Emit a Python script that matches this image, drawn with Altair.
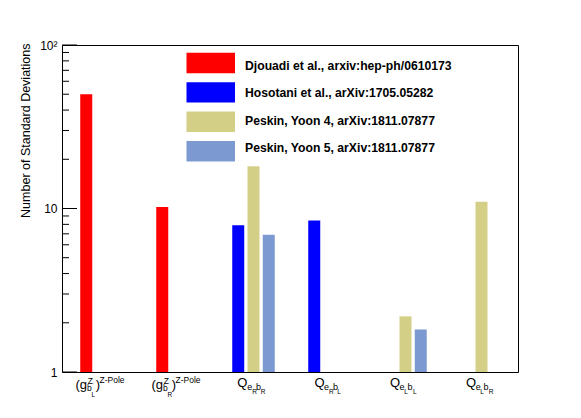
import altair as alt
import pandas as pd

# ---- data ----
cats = ["gZbL", "gZbR", "QeRbR", "QeRbL", "QeLbL", "QeLbR"]
series = [
    "Djouadi et al., arxiv:hep-ph/0610173",
    "Hosotani et al., arXiv:1705.05282",
    "Peskin, Yoon 4, arXiv:1811.07877",
    "Peskin, Yoon 5, arXiv:1811.07877",
]
colors = ["#ff0000", "#0000ff", "#d4cf87", "#7d99d1"]
slot_of_series = ["s0", "s0", "s1", "s2"]

djouadi = [50, 10.2, None, None, None, None]
hosotani = [None, None, 7.9, 8.45, None, None]
yoon4 = [None, None, 18.1, None, 2.19, 11.0]
yoon5 = [None, None, 6.9, None, 1.82, None]

major_ticks = [1, 10, 100]
minor_ticks = [2, 3, 4, 5, 6, 7, 8, 9, 20, 30, 40, 50, 60, 70, 80, 90]

rows = []
for s_i, vals in enumerate([djouadi, hosotani, yoon4, yoon5]):
    for c, v in zip(cats, vals):
        if v is not None:
            rows.append({"cat": c, "series": series[s_i], "slot": slot_of_series[s_i], "value": v})
df = pd.DataFrame(rows)

W, H = 456, 327
TOP = 45  # page y of plot top

xscale = alt.Scale(domain=cats, paddingInner=0, paddingOuter=0)
yscale = alt.Scale(type="log", domain=[1, 100])
cscale = alt.Scale(domain=series, range=colors)

bars = alt.Chart(df).mark_bar().encode(
    x=alt.X("cat:N", scale=xscale, axis=None),
    xOffset=alt.XOffset("slot:N", scale=alt.Scale(domain=["p0", "s0", "s1", "s2", "p1"],
                                                  paddingInner=0.213, paddingOuter=0.098, align=1)),
    y=alt.Y("value:Q", scale=yscale,
            axis=alt.Axis(values=major_ticks, ticks=False, domain=False, grid=False,
                          labelExpr="datum.value == 100 ? '10²' : datum.label",
                          labelFontSize=12, labelColor="black", labelPadding=5,
                          labelFont="Liberation Sans",
                          title="Number of Standard Deviations", titleFontSize=12.5,
                          titleFontWeight="normal", titleColor="black", titleFont="Liberation Sans",
                          titleAngle=270, titleAlign="right", titleBaseline="alphabetic",
                          titleX=-33, titleY=-2)),
    y2=alt.datum(1),
    color=alt.Color("series:N", scale=cscale, legend=None),
)

minor = alt.Chart(pd.DataFrame({"v": minor_ticks})).mark_rule(color="black", strokeWidth=1).encode(
    y=alt.Y("v:Q", scale=yscale, axis=None), x=alt.value(0), x2=alt.value(7))
major = alt.Chart(pd.DataFrame({"v": major_ticks})).mark_rule(color="black", strokeWidth=1).encode(
    y=alt.Y("v:Q", scale=yscale, axis=None), x=alt.value(0), x2=alt.value(15))

# ---- category labels with sub/superscripts (text pieces) ----
def paren_pieces(sub):
    return [("(g", -24.5, 388.5, 13), ("Z", -12.2, 383.5, 8.5), ("b", -13, 391, 8.5),
            (sub, -8.5, 397, 6.5), (")", -4.3, 388.5, 13), ("Z-Pole", -0.5, 383, 8.5)]

def q_pieces(a, b, dxs):
    return [("Q", dxs[0], 386.5, 13), ("e", dxs[1], 390, 9), (a, dxs[2], 394, 6.5),
            ("b", dxs[3], 389.5, 9), (b, dxs[4], 394, 6.5)]

label_pieces = {
    "gZbL": paren_pieces("L"),
    "gZbR": paren_pieces("R"),
    "QeRbR": q_pieces("R", "R", [-14.7, -4.7, 0.3, 4.0, 8.7]),
    "QeRbL": q_pieces("R", "L", [-13.6, -4.0, 1.0, 5.0, 9.3]),
    "QeLbL": q_pieces("L", "L", [-14.0, -4.5, 0.3, 3.6, 8.9]),
    "QeLbR": q_pieces("L", "R", [-14.0, -4.3, 0.3, 3.5, 8.7]),
}

label_layers = []
for c in cats:
    for txt, dx, base, size in label_pieces[c]:
        label_layers.append(
            alt.Chart(pd.DataFrame({"cat": [c], "t": [txt]})).mark_text(
                align="left", baseline="alphabetic", dx=dx, fontSize=size,
                font="Liberation Sans", color="black").encode(
                x=alt.X("cat:N", scale=xscale, axis=None),
                y=alt.value(base - TOP),
                text="t:N")
        )

# ---- legend ----
leg_df = pd.DataFrame({"series": series})
leg_y = alt.Y("series:N", scale=alt.Scale(domain=series, range=[7.75, 116.4], paddingInner=0.303,
                                          paddingOuter=0), axis=None)
leg_rect = alt.Chart(leg_df).mark_rect().encode(
    x=alt.value(124.5), x2=alt.value(173), y=leg_y,
    color=alt.Color("series:N", scale=cscale, legend=None))
leg_text = alt.Chart(leg_df).mark_text(align="left", baseline="middle", fontSize=12.2,
                                       fontWeight="bold", font="Liberation Sans", color="black").encode(
    x=alt.value(183), y=leg_y, text="series:N")

chart = alt.layer(bars, minor, major, leg_rect, leg_text, *label_layers).resolve_scale(
    y="independent"
).properties(
    width=W, height=H,
    padding={"left": 54, "top": 37, "right": 10, "bottom": 40},
    autosize="none",
    background="white",
).configure_view(stroke="black", strokeWidth=1)

chart.save("out.html", embed_options={"renderer": "svg", "actions": False})
